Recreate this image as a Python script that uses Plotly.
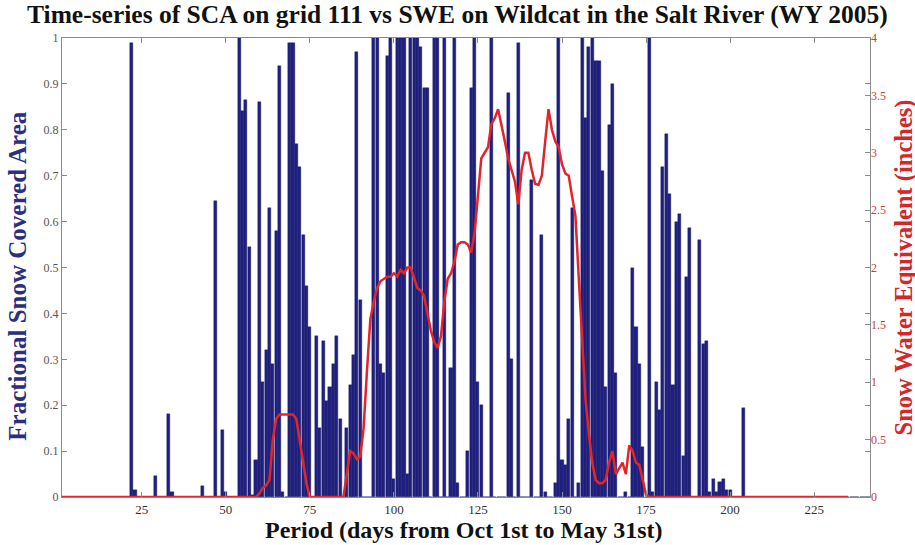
import plotly.graph_objects as go

# ---- data ----
days_sca = list(range(1, 242))
sca = [
    0, 0, 0, 0, 0, 0, 0, 0, 0, 0,                                # 1-10
    0, 0, 0, 0, 0, 0, 0, 0, 0, 0,                                # 11-20
    0, 0.99, 0.015, 0, 0, 0, 0, 0, 0.045, 0,                     # 21-30
    0, 0, 0.18, 0.01, 0, 0, 0, 0, 0, 0,                          # 31-40
    0, 0, 0.025, 0, 0, 0, 0.645, 0, 0.147, 0.01,                 # 41-50
    0, 0, 0, 1.0, 0.84, 0.866, 0.545, 0.005, 0.08, 0.86,         # 51-60
    0.25, 0.32, 0.63, 0.29, 0.58, 0.94, 0.01, 0, 0.99, 0.99,     # 61-70
    0.77, 0.72, 0.57, 0.46, 0.37, 0, 0.35, 0.15, 0.34, 0.21,     # 71-80
    0.24, 0.29, 0.35, 0.17, 0, 0.15, 0.245, 0.31, 0.97, 0.43,    # 81-90
    0, 0, 0, 1.0, 1.0, 0.29, 0.27, 0.96, 1.0, 0.04,              # 91-100
    1.0, 1.0, 1.0, 0.05, 1.0, 1.0, 1.0, 0.98, 0.89, 0.89,        # 101-110
    0, 1.0, 1.0, 0, 1.0, 0, 0.28, 1.0, 0.03, 0,                  # 111-120
    0, 0.1, 0.89, 1.0, 0.25, 0.2, 0, 0, 1.0, 0,                  # 121-130
    0, 0, 0, 0.88, 0.30, 0, 0.99, 0, 0, 0,                       # 131-140
    0.69, 0, 0, 0.57, 0.01, 0, 0, 0.03, 1.0, 0.08,               # 141-150
    0.07, 0.17, 0.63, 0, 0.03, 1.0, 0.825, 0.98, 1.0, 0.95,      # 151-160
    0.95, 0.71, 0.24, 0.81, 0.9, 0.27, 0, 0, 0.01, 0,            # 161-170
    0.5, 0.37, 0.29, 0.11, 0, 1.0, 0.01, 0.25, 0.19, 0.72,       # 171-180
    0.79, 0.66, 0.245, 0.6, 0.617, 0.089, 0.48, 0.585, 0, 0,     # 181-190
    0.56, 0.334, 0.34, 0.01, 0.04, 0.01, 0.033, 0.04, 0.015, 0.015,  # 191-200
    0, 0, 0, 0.195, 0, 0, 0, 0, 0, 0,                            # 201-210
    0, 0, 0, 0, 0, 0, 0, 0, 0, 0,                                # 211-220
    0, 0, 0, 0, 0, 0, 0, 0, 0, 0,                                # 221-230
    0, 0, 0, 0, 0, 0, 0, 0, 0, 0,                                # 231-240
    0,                                                           # 241
]

days_swe = list(range(1, 236))
swe = [
    0, 0, 0, 0, 0, 0, 0, 0, 0, 0,                                # 1-10
    0, 0, 0, 0, 0, 0, 0, 0, 0, 0,                                # 11-20
    0, 0, 0, 0, 0, 0, 0, 0, 0, 0,                                # 21-30
    0, 0, 0, 0, 0, 0, 0, 0, 0, 0,                                # 31-40
    0, 0, 0, 0, 0, 0, 0, 0, 0, 0,                                # 41-50
    0, 0, 0, 0, 0, 0, 0, 0, 0, 0.03,                             # 51-60
    0.08, 0.1, 0.15, 0.5, 0.68, 0.72, 0.72, 0.72, 0.72, 0.72,    # 61-70
    0.68, 0.5, 0.3, 0.12, 0, 0, 0, 0, 0, 0,                      # 71-80
    0, 0, 0, 0, 0, 0.2, 0.4, 0.38, 0.33, 0.35,                   # 81-90
    0.6, 1.1, 1.55, 1.7, 1.82, 1.88, 1.9, 1.92, 1.92, 1.95,      # 91-100
    1.92, 1.98, 1.95, 2.0, 2.0, 1.9, 1.82, 1.8, 1.75, 1.6,       # 101-110
    1.45, 1.35, 1.3, 1.4, 1.7, 1.9, 1.95, 2.05, 2.2, 2.22,       # 111-120
    2.22, 2.2, 2.13, 2.3, 2.6, 2.95, 3.0, 3.05, 3.25, 3.3,       # 121-130
    3.38, 3.25, 3.1, 2.95, 2.85, 2.75, 2.55, 2.85, 3.0, 3.0,     # 131-140
    2.85, 2.73, 2.72, 2.8, 3.1, 3.38, 3.2, 3.1, 3.05, 2.9,       # 141-150
    2.82, 2.8, 2.62, 2.45, 1.9, 1.35, 0.85, 0.55, 0.3, 0.15,     # 151-160
    0.12, 0.12, 0.15, 0.3, 0.4, 0.2, 0.25, 0.3, 0.2, 0.45,       # 161-170
    0.4, 0.3, 0.28, 0.15, 0.02, 0, 0, 0, 0, 0,                   # 171-180
    0, 0, 0, 0, 0, 0, 0, 0, 0, 0,                                # 181-190
    0, 0, 0, 0, 0, 0, 0, 0, 0, 0,                                # 191-200
    0, 0, 0, 0, 0, 0, 0, 0, 0, 0,                                # 201-210
    0, 0, 0, 0, 0, 0, 0, 0, 0, 0,                                # 211-220
    0, 0, 0, 0, 0, 0, 0, 0, 0, 0,                                # 221-230
    0, 0, 0, 0, 0,                                               # 231-235
]

x_ticks = [25, 50, 75, 100, 125, 150, 175, 200, 225]
y_ticks = [0, 0.1, 0.2, 0.3, 0.4, 0.5, 0.6, 0.7, 0.8, 0.9, 1]
y_tick_labels = ["0", "0.1", "0.2", "0.3", "0.4", "0.5", "0.6", "0.7", "0.8", "0.9", "1"]
y2_ticks = [0, 0.5, 1, 1.5, 2, 2.5, 3, 3.5, 4]
y2_tick_labels = ["0", "0.5", "1", "1.5", "2", "2.5", "3", "3.5", "4"]

title_text = "Time-series of SCA on grid 111 vs SWE on Wildcat in the Salt River (WY 2005)"
x_title = "Period (days from Oct 1st to May 31st)"
y_title = "Fractional Snow Covered Area"
y2_title = "Snow Water Equivalent (inches)"

SERIF = "Liberation Serif, Times New Roman, serif"
NAVY = "#1f2080"
RED = "#e3242b"
AXIS = "#8a8a8a"

fig = go.Figure()
fig.add_trace(go.Bar(
    x=days_sca, y=sca, width=0.92,
    marker=dict(color=NAVY, line=dict(color="#17175e", width=0.4)),
    showlegend=False, hoverinfo="x+y",
))
fig.add_trace(go.Scatter(
    x=days_swe, y=swe, yaxis="y2", mode="lines",
    line=dict(color=RED, width=2.5),
    showlegend=False,
))

fig.update_layout(
    width=915, height=545,
    margin=dict(l=62, r=45, t=38, b=48, autoexpand=False),
    paper_bgcolor="white", plot_bgcolor="white",
    bargap=0,
    xaxis=dict(
        range=[1.3, 241.6], tickvals=x_ticks, ticktext=[str(v) for v in x_ticks],
        ticks="inside", ticklen=5, tickcolor=AXIS,
        showline=True, linecolor=AXIS, linewidth=1, mirror="ticks",
        showgrid=False, zeroline=False, automargin=False,
        tickfont=dict(family=SERIF, size=13, color="#333"),
    ),
    yaxis=dict(
        range=[0, 1], tickvals=y_ticks, ticktext=y_tick_labels,
        ticks="inside", ticklen=5, tickcolor=AXIS,
        showline=True, linecolor=AXIS, linewidth=1, mirror="ticks",
        showgrid=False, zeroline=False, automargin=False,
        tickfont=dict(family=SERIF, size=12, color="#555"),
    ),
    yaxis2=dict(
        range=[0, 4], tickvals=y2_ticks, ticktext=y2_tick_labels,
        overlaying="y", side="right",
        ticks="inside", ticklen=5, tickcolor=AXIS,
        showline=False, showgrid=False, zeroline=False, automargin=False,
        tickfont=dict(family=SERIF, size=12, color="#c9403c"),
    ),
    annotations=[
        dict(text="<b>" + title_text + "</b>", xref="paper", yref="paper",
             x=0.49, y=1.0, yshift=24, xanchor="center", yanchor="middle",
             showarrow=False, font=dict(family=SERIF, size=25.5, color="#111")),
        dict(text="<b>" + x_title + "</b>", xref="paper", yref="paper",
             x=0.4975, y=0, yshift=-33, xanchor="center", yanchor="middle",
             showarrow=False, font=dict(family=SERIF, size=24, color="#111")),
        dict(text="<b>" + y_title + "</b>", xref="paper", yref="paper",
             x=0, xshift=-44, y=0.48, xanchor="center", yanchor="middle",
             textangle=-90, showarrow=False,
             font=dict(family=SERIF, size=25, color="#2b2f80")),
        dict(text="<b>" + y2_title + "</b>", xref="paper", yref="paper",
             x=1, xshift=33, y=0.5, xanchor="center", yanchor="middle",
             textangle=-90, showarrow=False,
             font=dict(family=SERIF, size=24.5, color="#d4262b")),
    ],
)

# place the figure flush with the window's top-left corner, no mode bar
fig.write_html("out.html", config={"displayModeBar": False},
               post_script="document.body.style.margin='0px';")
